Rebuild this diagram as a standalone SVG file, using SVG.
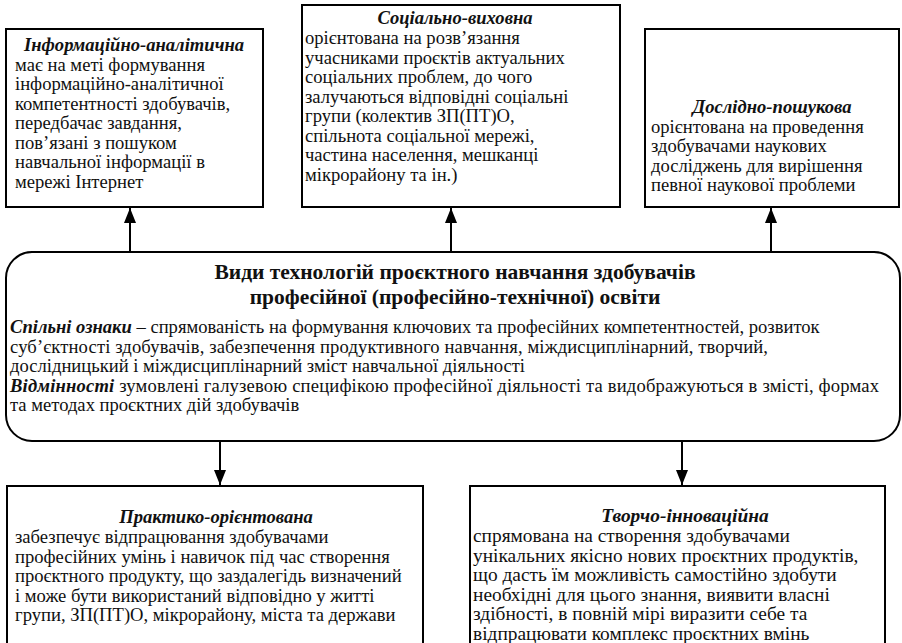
<svg xmlns="http://www.w3.org/2000/svg" width="902" height="643" viewBox="0 0 902 643">
<defs>
<style>
.box{fill:#fff;stroke:#000;stroke-width:2}
.t{font-weight:bold;font-style:italic;text-anchor:middle}
.h{font-weight:bold;font-size:21.5px;text-anchor:middle}
.bi{font-weight:bold;font-style:italic}
.c{stroke:#000;stroke-width:2;fill:none}
</style>
<marker id="ah" viewBox="0 0 10 10" refX="10" refY="5" markerWidth="7.5" markerHeight="6" orient="auto" markerUnits="strokeWidth" preserveAspectRatio="none">
<path d="M0,0 L10,5 L0,10 Z" fill="#000"/>
</marker>
</defs>
<rect width="902" height="643" fill="#fff"/>
<g id="connectors">
<line class="c" x1="130" y1="252" x2="130" y2="208" marker-end="url(#ah)"/>
<line class="c" x1="451" y1="252" x2="451" y2="208" marker-end="url(#ah)"/>
<line class="c" x1="771" y1="252" x2="771" y2="208" marker-end="url(#ah)"/>
<line class="c" x1="220" y1="441" x2="220" y2="485" marker-end="url(#ah)"/>
<line class="c" x1="682" y1="441" x2="682" y2="485" marker-end="url(#ah)"/>
</g>
<g font-family="Liberation Serif, Times New Roman, serif" font-size="18.6" fill="#111">
<g id="n1">
<rect class="box" x="6" y="29" width="257" height="178"/>
<text class="t" x="134" y="51">Інформаційно-аналітична</text>
<text x="15" y="70.5">має на меті формування</text>
<text x="15" y="90">інформаційно-аналітичної</text>
<text x="15" y="109.5">компетентності здобувачів,</text>
<text x="15" y="129">передбачає завдання,</text>
<text x="15" y="148.5">пов’язані з пошуком</text>
<text x="15" y="168">навчальної  інформації в</text>
<text x="15" y="187.5">мережі Інтернет</text>
</g>
<g id="n2">
<rect class="box" x="302" y="5" width="318" height="202"/>
<text class="t" x="455" y="24">Соціально-виховна</text>
<text x="305" y="44">орієнтована на розв’язання</text>
<text x="305" y="63.5">учасниками проєктів актуальних</text>
<text x="305" y="83">соціальних проблем, до чого</text>
<text x="305" y="102.5">залучаються відповідні соціальні</text>
<text x="305" y="122">групи (колектив ЗП(ПТ)О,</text>
<text x="305" y="141.5">спільнота соціальної мережі,</text>
<text x="305" y="161">частина населення, мешканці</text>
<text x="305" y="180.5">мікрорайону та ін.)</text>
</g>
<g id="n3">
<rect class="box" x="645" y="29" width="254" height="178"/>
<text class="t" x="772" y="113">Дослідно-пошукова</text>
<text x="651" y="132.5">орієнтована на проведення</text>
<text x="651" y="152">здобувачами наукових</text>
<text x="651" y="171.5">досліджень для вирішення</text>
<text x="651" y="191">певної наукової проблеми</text>
</g>
<g id="n0">
<rect class="box" x="6" y="252" width="894" height="189" rx="26" ry="26"/>
<text class="h" x="455" y="279">Види технологій проєктного навчання здобувачів</text>
<text class="h" x="455" y="304">професійної (професійно-технічної) освіти</text>
<text x="10" y="333"><tspan class="bi">Спільні ознаки</tspan> – спрямованість на формування ключових та професійних компетентностей, розвиток</text>
<text x="10" y="353" textLength="758" lengthAdjust="spacing">суб’єктності здобувачів, забезпечення продуктивного навчання, міждисциплінарний, творчий,</text>
<text x="10" y="372">дослідницький і міждисциплінарний зміст навчальної діяльності</text>
<text x="10" y="391.5" textLength="869" lengthAdjust="spacing"><tspan class="bi">Відмінності</tspan>  зумовлені галузевою специфікою професійної діяльності та видображуються в змісті, формах</text>
<text x="10" y="411">та методах проєктних дій здобувачів</text>
</g>
<g id="n4">
<rect class="box" x="7" y="486" width="416" height="170"/>
<text class="t" x="216" y="523">Практико-орієнтована</text>
<text x="15" y="543">забезпечує відпрацювання здобувачами</text>
<text x="15" y="562.5">професійних умінь і навичок під час створення</text>
<text x="15" y="582">проєктного продукту, що заздалегідь визначений</text>
<text x="15" y="601.5">і може бути використаний відповідно у житті</text>
<text x="15" y="621">групи, ЗП(ПТ)О, мікрорайону, міста та держави</text>
</g>
<g id="n5" font-size="19.4">
<rect class="box" x="470" y="486" width="415" height="170"/>
<text class="t" x="685" y="522">Творчо-інноваційна</text>
<text x="473" y="542">спрямована на створення здобувачами</text>
<text x="473" y="561.5">унікальних якісно нових проєктних продуктів,</text>
<text x="473" y="581">що дасть їм можливість самостійно здобути</text>
<text x="473" y="600.5">необхідні для цього знання, виявити власні</text>
<text x="473" y="620">здібності, в повній мірі виразити себе та</text>
<text x="473" y="639.5">відпрацювати комплекс проєктних вмінь</text>
</g>
</g>
</svg>
